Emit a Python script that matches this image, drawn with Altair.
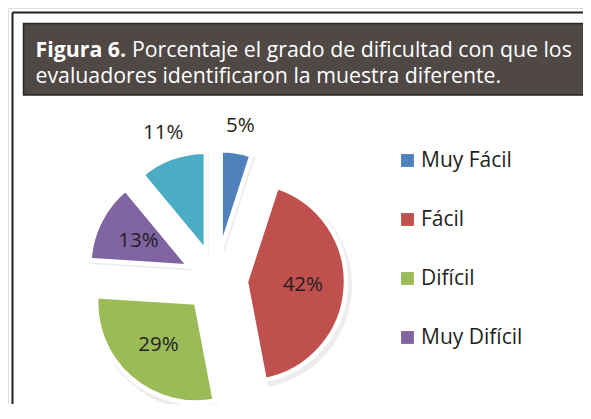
import altair as alt
import pandas as pd

# ---- data ----
categories = ["Muy Fácil", "Fácil", "Difícil", "Muy Difícil", "Otro"]
values = [5, 42, 29, 13, 11]
colors = ["#4f81bd", "#c0504d", "#9bbb59", "#8064a2", "#4bacc6"]
legend_items = ["Muy Fácil", "Fácil", "Difícil", "Muy Difícil"]
title_bold = "Figura 6."
title_line1 = "Porcentaje el grado de dificultad con que los"
title_line2 = "evaluadores identificaron la muestra diferente."

W, H = 575, 396
CX, CY = 208, 272        # pie centre inside the view (pixels)
EXPLODE = 30
R = 100

df = pd.DataFrame({"cat": categories, "val": values, "order": list(range(len(values)))})

x_scale = alt.Scale(domain=[-CX, W - CX], range=[0, W])
y_scale = alt.Scale(domain=[-(H - CY), CY], range=[H, 0])
color_scale = alt.Scale(domain=categories, range=colors)
theta_scale = alt.Scale(domain=[0, 100], range=[0, 6.283185307])

base = alt.Chart(df).transform_window(
    end="sum(val)", sort=[alt.SortField("order")]
).transform_calculate(
    start="datum.end - datum.val",
    mid="(datum.start + datum.val / 2) / 100 * 2 * PI",
    cx=f"{EXPLODE} * sin(datum.mid)",
    cy=f"{EXPLODE} * cos(datum.mid)",
    lr="datum.val < 12 ? 126 : 57",
    lx="datum.cx + datum.lr * sin(datum.mid)",
    ly="datum.cy + datum.lr * cos(datum.mid)",
    lab="datum.val + '%'",
)

shadow = base.mark_arc(outerRadius=R + 3, color="#000000", opacity=0.07,
                       xOffset=3, yOffset=4).encode(
    theta=alt.Theta("start:Q", scale=theta_scale, stack=None),
    theta2="end:Q",
    x=alt.X("cx:Q", scale=x_scale, axis=None),
    y=alt.Y("cy:Q", scale=y_scale, axis=None),
)

arcs = base.mark_arc(outerRadius=R, stroke="white", strokeWidth=4.5,
                     strokeJoin="miter").encode(
    theta=alt.Theta("start:Q", scale=theta_scale, stack=None),
    theta2="end:Q",
    x=alt.X("cx:Q", scale=x_scale, axis=None),
    y=alt.Y("cy:Q", scale=y_scale, axis=None),
    color=alt.Color("cat:N", scale=color_scale, sort=categories,
                    legend=alt.Legend(
                        title=None, values=legend_items, orient="none",
                        legendX=389, legendY=142, padding=0,
                        symbolType="square", symbolSize=165,
                        symbolStrokeWidth=0, labelFont="Open Sans",
                        labelFontSize=21, labelColor="#231f20",
                        labelOffset=3, rowPadding=37, labelLimit=300)),
)

labels = base.mark_text(font="Open Sans", fontSize=20.5, color="#231f20",
                        align="center", baseline="middle").encode(
    x=alt.X("lx:Q", scale=x_scale, axis=None),
    y=alt.Y("ly:Q", scale=y_scale, axis=None),
    text="lab:N",
)

one = pd.DataFrame({"t": [title_bold], "l1": [title_line1], "l2": [title_line2]})

frame_top = alt.Chart(one).mark_rule(stroke="#231f20", strokeWidth=2).encode(
    x=alt.value(4.5), x2=alt.value(W), y=alt.value(4.5))
frame_left = alt.Chart(one).mark_rule(stroke="#231f20", strokeWidth=2).encode(
    x=alt.value(4.5), y=alt.value(4.5), y2=alt.value(H))

title_bar = alt.Chart(one).mark_rect(fill="#4f4845", stroke="#2a2422",
                                     strokeWidth=1.5).encode(
    x=alt.value(15.5), x2=alt.value(578), y=alt.value(15.5), y2=alt.value(87))

FS = 21.3
t_bold = alt.Chart(one).mark_text(font="Open Sans", fontWeight="bold", fontSize=FS,
                                  color="white", align="left",
                                  baseline="alphabetic").encode(
    x=alt.value(27.5), y=alt.value(48.5), text="t:N")
t_l1 = alt.Chart(one).mark_text(font="Open Sans", fontSize=FS, color="white",
                                align="left", baseline="alphabetic").encode(
    x=alt.value(124), y=alt.value(48.5), text="l1:N")
t_l2 = alt.Chart(one).mark_text(font="Open Sans", fontSize=FS, color="white",
                                align="left", baseline="alphabetic").encode(
    x=alt.value(27.5), y=alt.value(75), text="l2:N")

chart = alt.layer(frame_top, frame_left, title_bar, t_bold, t_l1, t_l2,
                  shadow, arcs, labels).properties(
    width=W, height=H, padding=0, autosize="none"
).configure_view(strokeWidth=0, strokeOpacity=0).configure(background="white")

chart.save("out.html", embed_options={"renderer": "svg", "actions": False})
